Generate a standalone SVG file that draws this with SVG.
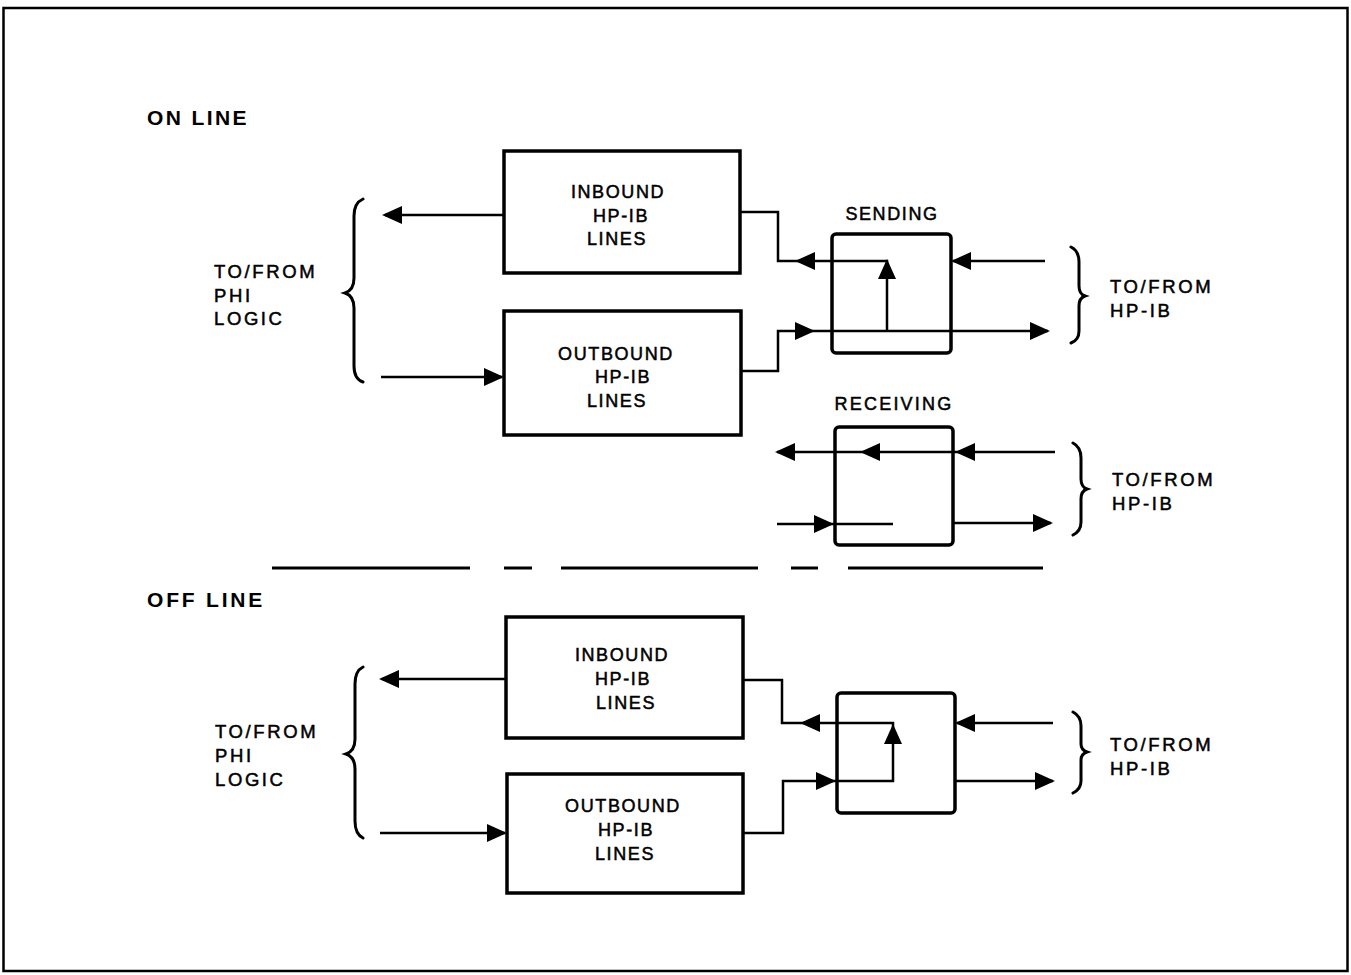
<svg xmlns="http://www.w3.org/2000/svg" width="1351" height="975" viewBox="0 0 1351 975">
<style>
  .box { fill: none; stroke: #000; stroke-width: 3.5; }
  .ln { fill: none; stroke: #000; stroke-width: 2.5; stroke-linejoin: miter; }
  .br { fill: none; stroke: #000; stroke-width: 3; stroke-linecap: round; }
  .t { font-family: "Liberation Sans", Arial, sans-serif; font-size: 18px; fill: #000; stroke: #000; stroke-width: 0.5; letter-spacing: 1.6px; }
  .w { letter-spacing: 2.6px; font-size: 18.5px; }
  .c { text-anchor: middle; }
  .h { font-family: "Liberation Sans", Arial, sans-serif; font-size: 21px; font-weight: bold; fill: #000; letter-spacing: 2.4px; }
</style>
<defs>
  <path id="ah" d="M0,0 L-20,-9 L-20,9 Z" fill="#000"/>
</defs>
<rect width="1351" height="975" fill="#fff"/>
<rect x="3.5" y="8" width="1344" height="963" fill="none" stroke="#000" stroke-width="2.5"/>

<text class="h" x="147" y="125">ON LINE</text>
<text class="h" x="147" y="607" style="letter-spacing:2.8px">OFF LINE</text>

<g id="dashed">
  <path d="M272,568 H470 M504,568 H532 M561,568 H758 M791,568 H818 M848,568 H1043" stroke="#000" stroke-width="3.2" fill="none"/>
</g>

<!-- ON LINE -->
<g id="phi-on">
  <path class="br" d="M363,199 Q354,203 354,216 L354,278 Q354,290 345,293 Q354,296 354,308 L354,366 Q354,379 363,382"/>
  <text class="t w" x="214" y="278">TO/FROM</text>
  <text class="t w" x="214" y="302">PHI</text>
  <text class="t w" x="214" y="325">LOGIC</text>
</g>
<g id="inbound-on">
  <rect class="box" x="504" y="151" width="236" height="122"/>
  <text class="t c" x="618" y="198">INBOUND</text>
  <text class="t c" x="621" y="222">HP-IB</text>
  <text class="t c" x="617" y="245">LINES</text>
</g>
<g id="outbound-on">
  <rect class="box" x="504" y="311" width="237" height="124"/>
  <text class="t c" x="616" y="360">OUTBOUND</text>
  <text class="t c" x="623" y="383">HP-IB</text>
  <text class="t c" x="617" y="407">LINES</text>
</g>
<g id="sending">
  <text class="t c" x="892" y="220">SENDING</text>
  <rect class="box" x="832" y="234" width="119" height="119" rx="4"/>
</g>
<g id="hpib-send">
  <path class="br" d="M1071,247 Q1079,251 1079,262 L1079,286 Q1079,294 1085,296 Q1079,298 1079,306 L1079,331 Q1079,340 1071,343"/>
  <text class="t w" x="1110" y="293">TO/FROM</text>
  <text class="t w" x="1110" y="317">HP-IB</text>
</g>
<g id="receiving">
  <text class="t c" x="894" y="410" style="letter-spacing:2.2px">RECEIVING</text>
  <rect class="box" x="835" y="427" width="118" height="118" rx="4"/>
</g>
<g id="hpib-recv">
  <path class="br" d="M1073,443 Q1081,447 1081,458 L1081,479 Q1081,487 1087,489 Q1081,491 1081,499 L1081,522 Q1081,531 1073,535"/>
  <text class="t w" x="1112" y="486">TO/FROM</text>
  <text class="t w" x="1112" y="510">HP-IB</text>
</g>

<!-- OFF LINE -->
<g id="phi-off">
  <path class="br" d="M363,667 Q355,671 355,684 L355,739 Q355,751 346,754 Q355,757 355,769 L355,821 Q355,834 363,838"/>
  <text class="t w" x="215" y="738">TO/FROM</text>
  <text class="t w" x="215" y="762">PHI</text>
  <text class="t w" x="215" y="786">LOGIC</text>
</g>
<g id="inbound-off">
  <rect class="box" x="506" y="617" width="237" height="121"/>
  <text class="t c" x="622" y="661">INBOUND</text>
  <text class="t c" x="623" y="685">HP-IB</text>
  <text class="t c" x="626" y="709">LINES</text>
</g>
<g id="outbound-off">
  <rect class="box" x="507" y="774" width="236" height="119"/>
  <text class="t c" x="623" y="812">OUTBOUND</text>
  <text class="t c" x="626" y="836">HP-IB</text>
  <text class="t c" x="625" y="860">LINES</text>
</g>
<g id="switch-off">
  <rect class="box" x="837" y="693" width="118" height="120" rx="4"/>
</g>
<g id="hpib-off">
  <path class="br" d="M1073,712 Q1081,716 1081,726 L1081,744 Q1081,750 1087,752 Q1081,754 1081,760 L1081,781 Q1081,789 1073,793"/>
  <text class="t w" x="1110" y="751">TO/FROM</text>
  <text class="t w" x="1110" y="775">HP-IB</text>
</g>

<g id="connectors">
  <!-- on line -->
  <path class="ln" d="M504,215 H385"/>
  <use href="#ah" transform="translate(382,215) rotate(180)"/>
  <path class="ln" d="M381,377 H502"/>
  <use href="#ah" transform="translate(504,377)"/>
  <path class="ln" d="M740,212 H778 V261 H887 V331"/>
  <use href="#ah" transform="translate(795,261) rotate(180)"/>
  <use href="#ah" transform="translate(887,259) rotate(-90)"/>
  <path class="ln" d="M741,371 H778 V331 H1048"/>
  <use href="#ah" transform="translate(815,331)"/>
  <use href="#ah" transform="translate(1050,331)"/>
  <path class="ln" d="M1045,261 H953"/>
  <use href="#ah" transform="translate(951,261) rotate(180)"/>
  <!-- receiving -->
  <path class="ln" d="M1055,452 H777"/>
  <use href="#ah" transform="translate(775,452) rotate(180)"/>
  <use href="#ah" transform="translate(860,452) rotate(180)"/>
  <use href="#ah" transform="translate(955,452) rotate(180)"/>
  <path class="ln" d="M777,524 H893"/>
  <use href="#ah" transform="translate(834,524)"/>
  <path class="ln" d="M953,523 H1051"/>
  <use href="#ah" transform="translate(1053,523)"/>
  <!-- off line -->
  <path class="ln" d="M506,679 H382"/>
  <use href="#ah" transform="translate(379,679) rotate(180)"/>
  <path class="ln" d="M380,833 H505"/>
  <use href="#ah" transform="translate(507,833)"/>
  <path class="ln" d="M743,680 H782 V723 H893 V781 H783 V833 H743"/>
  <use href="#ah" transform="translate(800,723) rotate(180)"/>
  <use href="#ah" transform="translate(893,724) rotate(-90)"/>
  <use href="#ah" transform="translate(836,781)"/>
  <path class="ln" d="M1053,723 H957"/>
  <use href="#ah" transform="translate(955,723) rotate(180)"/>
  <path class="ln" d="M955,781 H1053"/>
  <use href="#ah" transform="translate(1055,781)"/>
</g>
</svg>
